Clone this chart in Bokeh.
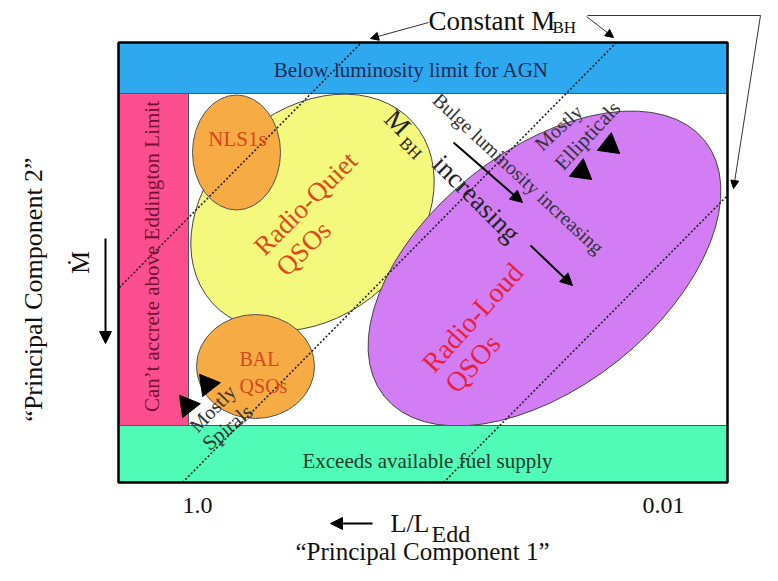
import math
from bokeh.plotting import figure
from bokeh.models import Range1d, ColumnDataSource, Arrow, NormalHead
from bokeh.core.properties import value
from bokeh.embed import file_html
from bokeh.resources import INLINE

# ---------------- data (diagram coordinates, y measured downward) ----------------
W, H = 762, 565  # diagram extent; y is flipped with H

# background bands of the parameter plane
band_labels = ["Below luminosity limit for AGN", "Can’t accrete above Eddington Limit",
               "Exceeds available fuel supply"]
band_left = [118, 118, 118]
band_right = [727, 188, 727]
band_top = [42, 93, 425]
band_bottom = [93, 425, 482]
band_colors = ["#2ea9ef", "#fd4f90", "#4ffbb6"]

# object classes drawn as ellipses
class_names = ["Radio-Quiet QSOs", "Radio-Loud QSOs", "NLS1s", "BAL QSOs"]
class_cx = [312, 544, 236, 255]
class_cy = [212, 268, 152, 366]
class_w = [270, 410, 88, 118]
class_h = [206, 236, 115, 104]
class_angle = [42, 38.5, 0, 0]
class_colors = ["#f4f87c", "#d27df4", "#f6ab45", "#f6ab45"]

# constant black-hole-mass lines
mbh_x0 = [119, 182, 443]
mbh_y0 = [287, 482, 482]
mbh_x1 = [360, 615, 727]
mbh_y1 = [43, 43, 195]

# x tick labels (L/L_Edd)
xtick_pos = [197, 663]
xtick_labels = ["1.0", "0.01"]
xtick_y = 505

# triangle markers: centre and pointing direction (deg, counter-clockwise from up)
tri_x = [609, 581, 207, 187]
tri_y = [145, 171, 384, 405]
tri_dir = [-8, -8, 38, 38]
tri_r = 13

# arrows (thick)
arr_x0 = [453, 530, 105, 372]
arr_y0 = [142, 245, 238, 523]
arr_x1 = [522, 572, 105, 330]
arr_y1 = [202, 285, 343, 523]

# thin pointer arrows from "Constant M_BH"
ptr_x0 = [428, 586, 760]
ptr_y0 = [22, 16, 15]
ptr_x1 = [370, 613, 733]
ptr_y1 = [38, 37, 188]
ptr_line_x = [587, 760]
ptr_line_y = [15, 15]

# text labels
lab_text = ["Below luminosity limit for AGN", "Exceeds available fuel supply",
            "Can’t accrete above Eddington Limit",
            "NLS1s", "Radio-Quiet", "QSOs", "BAL", "QSOs",
            "Radio-Loud", "QSOs",
            "M", "BH", "increasing",
            "Bulge luminosity increasing",
            "Mostly", "Ellipticals", "Mostly", "Spirals",
            "“Principal Component 1”", "“Principal Component 2”", "Ṁ"]
lab_x = [411, 427, 151, 237, 305, 303, 259, 263, 472, 472, 397, 410, 476, 518,
         558, 587, 212, 227, 422, 33, 80]
lab_y = [69, 460, 256, 138, 203, 248, 358, 385, 317, 363, 122, 148, 198, 173,
         127, 135, 408, 427, 551, 289, 262]
lab_angle = [0, 0, 90, 0, 45, 45, 0, 0, 48, 48, -45, -45, -45, -43,
             43, 47, 46, 40, 0, 90, 90]
lab_size = [21, 21, 21, 21, 27, 27, 20, 20, 28, 28, 27, 17, 27, 20,
            20, 21, 20, 21, 25, 26, 26]
lab_color = ["#1c2b55", "#1d3a2c", "#701232", "#d8451a", "#dd4a1c", "#dd4a1c",
             "#d8451a", "#d8451a", "#e8203c", "#e8203c", "#222222", "#222222",
             "#222222", "#333333", "#333333", "#333333", "#333333", "#333333",
             "#111111", "#111111", "#111111"]

# left-aligned pieces (with subscripts)
sub_text = ["Constant M", "BH", "L/L", "Edd"]
sub_x = [428, 552, 390, 431]
sub_y = [20, 27, 523, 533]
sub_size = [27, 17, 26, 24]


def fy(vals):
    return [H - v for v in vals]


FONT = value("Liberation Serif")

p = figure(width=W, height=H, x_range=Range1d(0, W), y_range=Range1d(0, H),
           x_axis_location=None, y_axis_location=None, toolbar_location=None,
           output_backend="svg", min_border=0, outline_line_color=None,
           background_fill_color="white")
p.xgrid.visible = False
p.ygrid.visible = False

# big ellipses first
p.ellipse(x=class_cx[:2], y=fy(class_cy[:2]), width=class_w[:2], height=class_h[:2],
          angle=class_angle[:2], angle_units="deg", fill_color=class_colors[:2],
          line_color="#444444", line_width=1)
p.ellipse(x=class_cx[2:], y=fy(class_cy[2:]), width=class_w[2:], height=class_h[2:],
          angle=class_angle[2:], angle_units="deg", fill_color=class_colors[2:],
          line_color="#555555", line_width=1)

# bands over them
p.quad(left=band_left, right=band_right, top=fy(band_top), bottom=fy(band_bottom),
       fill_color=band_colors, line_color="#555555", line_width=1)

# constant M_BH dotted lines
p.segment(x0=mbh_x0, y0=fy(mbh_y0), x1=mbh_x1, y1=fy(mbh_y1),
          line_color="#222222", line_width=1.6, line_dash="2 2")

# frame
p.quad(left=[band_left[0]], right=[band_right[0]], top=fy([band_top[0]]),
       bottom=fy([band_bottom[2]]), fill_color=None, line_color="black", line_width=2.5)

# triangles (vertices built from centre + direction)
txs, tys = [], []
for cx, cy, d in zip(tri_x, fy(tri_y), tri_dir):
    xs, ys = [], []
    for k in range(3):
        a = math.radians(d + 120 * k)
        xs.append(cx - tri_r * math.sin(a))
        ys.append(cy + tri_r * math.cos(a))
    txs.append(xs)
    tys.append(ys)
p.patches(xs=txs, ys=tys, fill_color="black", line_color="black", line_width=1)

# arrows
asrc = ColumnDataSource(dict(x0=arr_x0, y0=fy(arr_y0), x1=arr_x1, y1=fy(arr_y1)))
p.add_layout(Arrow(x_start="x0", y_start="y0", x_end="x1", y_end="y1", source=asrc,
                   line_width=2, line_color="black",
                   end=NormalHead(size=12, fill_color="black", line_color="black")))
psrc = ColumnDataSource(dict(x0=ptr_x0, y0=fy(ptr_y0), x1=ptr_x1, y1=fy(ptr_y1)))
p.add_layout(Arrow(x_start="x0", y_start="y0", x_end="x1", y_end="y1", source=psrc,
                   line_width=1, line_color="#333333",
                   end=NormalHead(size=8, fill_color="black", line_color="black")))
p.line(x=ptr_line_x, y=fy(ptr_line_y), line_color="#333333", line_width=1)

# texts
for i in range(len(lab_text)):
    p.text(x=[lab_x[i]], y=fy([lab_y[i]]), text=[lab_text[i]], angle=lab_angle[i],
           angle_units="deg", text_font=FONT, text_font_size=f"{lab_size[i]}px",
           text_color=lab_color[i], text_align="center", text_baseline="middle")

p.text(x=xtick_pos, y=fy([xtick_y] * len(xtick_pos)), text=xtick_labels, text_font=FONT,
       text_font_size="24px", text_color="#111111", text_align="center",
       text_baseline="middle")

for i in range(len(sub_text)):
    p.text(x=[sub_x[i]], y=fy([sub_y[i]]), text=[sub_text[i]], text_font=FONT,
           text_font_size=f"{sub_size[i]}px", text_color="#111111", text_align="left",
           text_baseline="middle")

open("out.html", "w").write(file_html(p, INLINE))
